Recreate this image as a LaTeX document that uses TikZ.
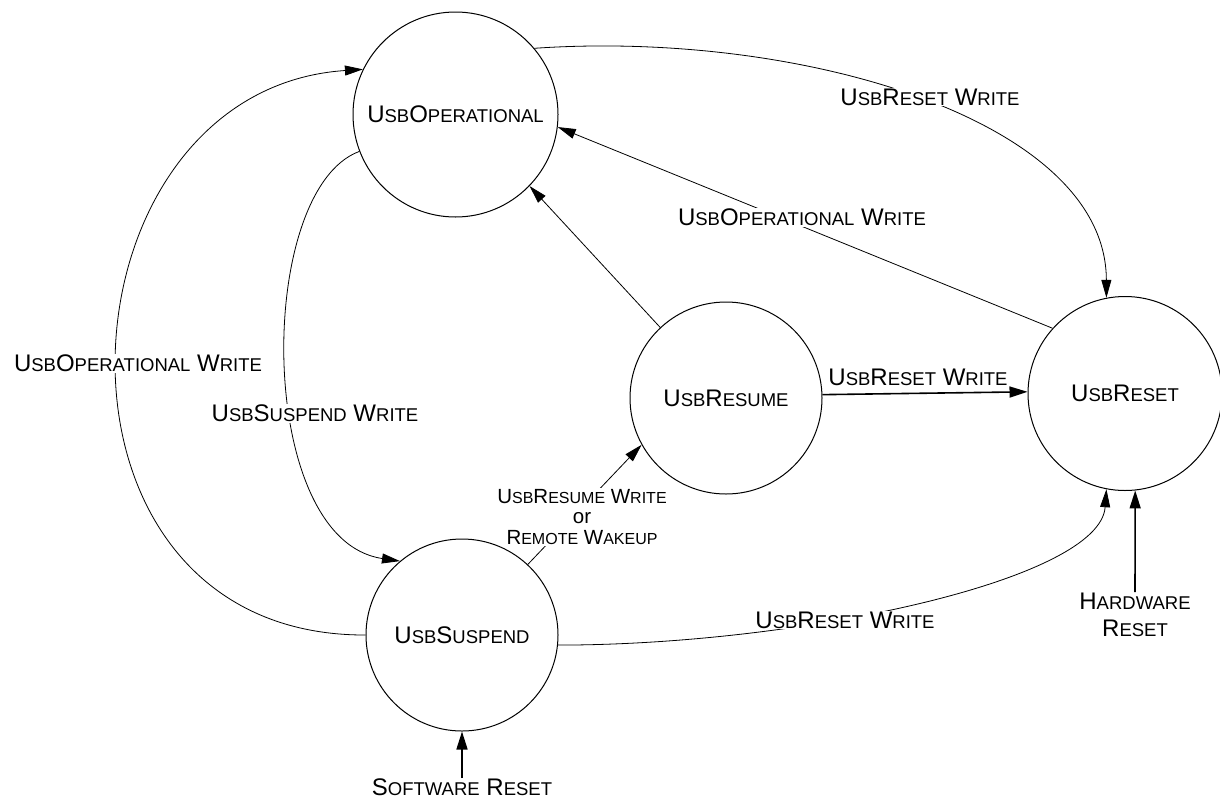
\documentclass[tikz,border=0pt]{standalone}
\usepackage{fontspec}
\setmainfont{Liberation Sans}
\usetikzlibrary{arrows.meta,backgrounds}
\newcommand\smc[1]{{\fontsize{18.5}{20}\selectfont #1}}
\newcommand\smcs[1]{{\fontsize{16}{17}\selectfont #1}}
\begin{document}
\begin{tikzpicture}[x=1pt,y=-1pt,
  font=\fontsize{24}{26}\selectfont,
  state/.style={draw,circle,inner sep=0pt,line width=1pt},
  conn/.style={line width=0.8pt,-{Triangle[length=18pt,width=10pt]}},
  heavyconn/.style={line width=1.6pt,-{Triangle[length=18pt,width=11pt]}},
  lbl/.style={fill=white,inner sep=1pt},
  plain/.style={inner sep=1pt,align=center}]
\useasboundingbox (0,0) rectangle (1220,801);

\node[state,minimum size=205pt] (op)  at (455.5,114.5) {U\smc{SB}O\smc{PERATIONAL}};
\node[state,minimum size=192pt] (res) at (726,398) {U\smc{SB}R\smc{ESUME}};
\node[state,minimum size=194pt] (rst) at (1125,393.5) {U\smc{SB}R\smc{ESET}};
\node[state,minimum size=192pt] (sus) at (462,635) {U\smc{SB}S\smc{USPEND}};

\node[plain,anchor=north,font=\fontsize{24}{27}\selectfont] (hw) at (1135,592) {H\smc{ARDWARE}\\R\smc{ESET}};
\node[plain,anchor=north] (sw) at (462,778) {S\smc{OFTWARE} R\smc{ESET}};

\begin{scope}[on background layer]
  % UsbOperational -> UsbReset
  \draw[conn] (op.40.5) .. controls (800,30) and (1106,120) .. (rst.101.6);
  % UsbReset -> UsbOperational
  \draw[conn] (rst.138) -- (op.-7.5);
  % UsbResume -> UsbOperational
  \draw[conn] (res.133.4) -- (op.-44.6);
  % UsbResume -> UsbReset
  \draw[heavyconn] (res.2) -- (rst.179);
  % UsbOperational -> UsbSuspend
  \draw[conn] (op.201.4) .. controls (255,190) and (255,540) .. (sus.130.3);
  % UsbSuspend -> UsbOperational
  \draw[conn] (sus.180) .. controls (20,636) and (50,90) .. (op.154);
  % UsbSuspend -> UsbResume
  \draw[conn] (sus.47.5) -- (res.209.5);
  % UsbSuspend -> UsbReset
  \draw[conn] (sus.-6) .. controls (800,645) and (1100,580) .. (rst.259.2);
  % resets
  \draw[heavyconn] (hw.north) -- (rst.-84);
  \draw[heavyconn] (sw.north) -- (sus.south);

  \node[lbl] (l1) at (930,97) {U\smc{SB}R\smc{ESET} W\smc{RITE}};
  \node[lbl] (l2) at (802,217) {U\smc{SB}O\smc{PERATIONAL} W\smc{RITE}};
  \node[plain] (l3) at (918,377) {U\smc{SB}R\smc{ESET} W\smc{RITE}};
  \node[lbl] (l4) at (138,363) {U\smc{SB}O\smc{PERATIONAL} W\smc{RITE}};
  \node[lbl] (l5) at (315,413) {U\smc{SB}S\smc{USPEND} W\smc{RITE}};
  \node[lbl,align=center,font=\fontsize{20.5}{20.5}\selectfont] (l6) at (582,517) {U\smcs{SB}R\smcs{ESUME} W\smcs{RITE}\\or\\R\smcs{EMOTE} W\smcs{AKEUP}};
  \node[lbl] (l7) at (845,620) {U\smc{SB}R\smc{ESET} W\smc{RITE}};
\end{scope}
\end{tikzpicture}
\end{document}
